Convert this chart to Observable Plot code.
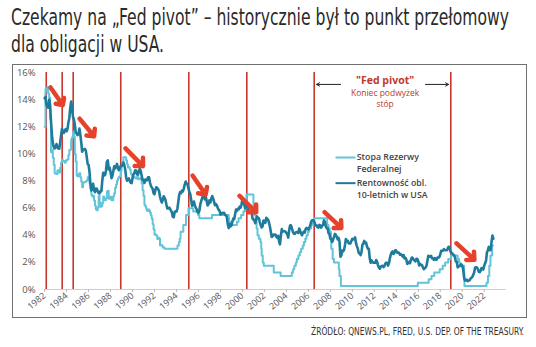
<!DOCTYPE html>
<html><head><meta charset="utf-8">
<script src="https://cdn.jsdelivr.net/npm/d3@7"></script>
<script src="https://cdn.jsdelivr.net/npm/@observablehq/plot@0.6"></script>
<style>
body{margin:0;background:#fff;width:536px;height:347px;position:relative;overflow:hidden;}
#title{position:absolute;left:11px;top:4px;font-family:"Liberation Sans Narrow","DejaVu Sans Condensed","Roboto",sans-serif;font-size:23px;line-height:27px;color:#2a2a2a;white-space:nowrap;}
#title span{display:inline-block;transform-origin:0 50%;}
#frame{position:absolute;left:12px;top:64px;width:515px;height:254px;box-sizing:border-box;border:1.5px solid #707070;}
#chart{position:absolute;left:12px;top:64px;}
#caption{position:absolute;top:326px;left:311px;font-family:"Liberation Sans Narrow","DejaVu Sans Condensed",sans-serif;font-size:10px;color:#333;white-space:nowrap;}
#caption span{display:inline-block;transform-origin:0 50%;}
</style></head>
<body>
<div id="title"><span id="t1">Czekamy na „Fed pivot” – historycznie był to punkt przełomowy</span><br><span id="t2">dla obligacji w USA.</span></div>
<div id="frame"></div>
<div id="chart"></div>
<div id="caption"><span id="cap">ŹRÓDŁO: QNEWS.PL, FRED, U.S. DEP. OF THE TREASURY.</span></div>
<script>
// ---- data ----
const yieldStart = 1982; // monthly 10-year Treasury yield, Jan 1982 onward
const yield10 = [
 14.1,14.2,13.6,13.5,13.4,14.0,13.6,12.4,11.4,10.8,10.5,10.4,
 10.46,10.72,10.51,10.40,10.38,10.85,11.38,11.85,11.65,11.54,11.69,11.83,
 11.67,11.84,12.32,12.63,13.41,13.85,13.36,12.72,12.52,12.16,11.57,11.50,
 11.38,11.51,11.86,11.43,10.85,10.16,10.31,10.33,10.37,10.24,9.78,9.26,
 9.19,8.70,7.78,7.30,7.71,7.80,7.30,7.17,7.45,7.43,7.25,7.11,
 7.08,7.25,7.25,8.02,8.61,8.40,8.45,8.76,9.42,9.52,8.86,8.99,
 8.67,8.21,8.37,8.72,9.09,8.92,9.06,9.26,8.98,8.80,8.96,9.11,
 9.09,9.17,9.36,9.18,8.86,8.28,8.02,8.11,8.19,8.01,7.87,7.84,
 8.21,8.47,8.59,8.79,8.76,8.48,8.47,8.75,8.89,8.72,8.39,8.08,
 8.09,7.85,8.11,8.04,8.07,8.28,8.27,7.90,7.65,7.53,7.42,7.09,
 7.03,7.34,7.54,7.48,7.39,7.26,6.84,6.59,6.42,6.59,6.87,6.77,
 6.60,6.26,5.98,5.97,6.04,5.96,5.81,5.68,5.36,5.33,5.72,5.77,
 5.75,5.97,6.48,6.97,7.18,7.10,7.30,7.24,7.46,7.74,7.96,7.81,
 7.78,7.47,7.20,7.06,6.63,6.17,6.28,6.49,6.20,6.04,5.93,5.71,
 5.65,5.81,6.27,6.51,6.74,6.91,6.87,6.64,6.83,6.53,6.20,6.30,
 6.58,6.42,6.69,6.89,6.71,6.49,6.22,6.30,6.21,6.03,5.88,5.81,
 5.54,5.57,5.65,5.64,5.65,5.50,5.46,5.34,4.81,4.53,4.83,4.65,
 4.72,5.00,5.23,5.18,5.54,5.90,5.79,5.94,5.92,6.11,6.03,6.28,
 6.66,6.52,6.26,5.99,6.44,6.10,6.05,5.83,5.80,5.74,5.72,5.24,
 5.16,5.10,4.89,5.14,5.39,5.28,5.24,4.97,4.73,4.57,4.65,5.09,
 5.04,4.91,5.28,5.21,5.16,4.93,4.65,4.26,3.87,3.94,4.05,4.03,
 4.05,3.90,3.81,3.96,3.57,3.33,3.98,4.45,4.27,4.29,4.30,4.27,
 4.15,4.08,3.83,4.35,4.72,4.73,4.50,4.28,4.13,4.10,4.19,4.23,
 4.22,4.17,4.50,4.34,4.14,4.00,4.18,4.26,4.20,4.46,4.54,4.47,
 4.42,4.57,4.72,4.99,5.11,5.11,5.09,4.88,4.72,4.73,4.60,4.56,
 4.76,4.72,4.56,4.69,4.75,5.10,5.00,4.67,4.52,4.53,4.15,4.10,
 3.74,3.74,3.51,3.68,3.88,4.10,4.01,3.89,3.69,3.81,3.53,2.42,
 2.52,2.87,2.82,2.93,3.29,3.72,3.56,3.59,3.40,3.39,3.40,3.59,
 3.73,3.69,3.73,3.85,3.42,3.20,3.01,2.70,2.65,2.54,2.76,3.29,
 3.39,3.58,3.41,3.46,3.17,3.00,3.00,2.30,1.98,2.15,2.01,1.98,
 1.97,1.97,2.17,2.05,1.80,1.62,1.53,1.68,1.72,1.75,1.65,1.72,
 1.91,1.98,1.96,1.76,1.93,2.30,2.58,2.74,2.81,2.62,2.72,2.90,
 2.86,2.71,2.72,2.71,2.56,2.60,2.54,2.42,2.53,2.30,2.33,2.21,
 1.88,1.98,2.04,1.94,2.20,2.36,2.32,2.17,2.17,2.07,2.26,2.24,
 2.09,1.78,1.89,1.81,1.81,1.64,1.50,1.56,1.63,1.76,2.14,2.49,
 2.43,2.42,2.48,2.30,2.30,2.19,2.32,2.21,2.20,2.36,2.35,2.40,
 2.58,2.86,2.84,2.87,2.98,2.91,2.89,2.89,3.00,3.15,3.12,2.83,
 2.71,2.68,2.57,2.53,2.40,2.07,2.06,1.63,1.70,1.71,1.81,1.86,
 1.76,1.50,0.87,0.66,0.67,0.73,0.62,0.65,0.68,0.79,0.87,0.93,
 1.08,1.26,1.61,1.64,1.62,1.52,1.32,1.28,1.37,1.58,1.56,1.47,
 1.76,1.93,2.13,2.75,2.90,3.14,2.90,2.90,3.52,3.98,3.75
];
// Fed rate: monthly 1982-1992, then change points (decimal year)
const fedMonthly = [
 12.0,14.78,14.68,14.94,14.45,14.15,12.59,10.12,10.31,9.71,9.20,8.55,
 8.55,8.51,8.77,8.80,8.63,8.98,9.37,9.56,9.45,9.48,9.34,9.47,
 9.56,9.59,9.91,10.29,10.32,11.06,11.23,11.64,11.30,9.99,9.43,8.38,
 8.35,8.50,8.58,8.27,7.97,7.53,7.88,7.90,7.92,7.99,8.05,8.27,
 8.14,7.86,7.48,6.99,6.85,6.92,6.56,6.17,5.89,5.85,6.04,6.91,
 6.43,6.10,6.13,6.37,6.85,6.73,6.58,6.73,7.22,7.29,6.69,6.77,
 6.83,6.58,6.58,6.87,7.09,7.51,7.75,8.01,8.19,8.30,8.35,8.76,
 9.12,9.36,9.75,9.75,9.75,9.53,9.24,8.99,9.02,8.84,8.55,8.45,
 8.23,8.24,8.28,8.26,8.18,8.29,8.15,8.13,8.20,8.11,7.81,7.31,
 6.91,6.25,6.12,5.91,5.78,5.90,5.82,5.66,5.45,5.21,4.81,4.43,
 4.03,4.06,3.98,3.73,3.82,3.76,3.25,3.30,3.22,3.10,3.09,3.00
];
const fedChangeYears = [1993.0,1994.09,1994.22,1994.3,1994.37,1994.62,1994.87,1995.09,1995.52,1995.97,1996.08,1997.23,
 1998.75,1998.79,1998.88,1999.5,1999.65,1999.88,2000.09,2000.22,2000.37,2001.0,2001.08,2001.21,2001.29,2001.37,2001.49,
 2001.64,2001.71,2001.75,2001.85,2001.94,2002.85,2003.48,2004.49,2004.61,2004.72,2004.86,2004.95,2005.09,2005.22,2005.34,
 2005.49,2005.6,2005.72,2005.83,2005.95,2006.08,2006.24,2006.36,2006.49,2007.71,2007.83,2007.95,2008.06,2008.08,2008.21,
 2008.33,2008.77,2008.83,2008.96,2015.96,2016.95,2017.2,2017.45,2017.95,2018.22,2018.45,2018.73,2018.97,2019.58,2019.71,
 2019.83,2020.17,2020.2,2022.21,2022.34,2022.46,2022.57,2022.72,2022.8];
const fedChangeRates = [3.0,3.25,3.5,3.75,4.25,4.75,5.5,6.0,5.75,5.5,5.25,5.5,
 5.25,5.0,4.75,5.0,5.25,5.5,5.75,6.0,7.0,6.0,5.5,5.0,4.5,4.0,3.75,
 3.5,3.0,2.5,2.0,1.75,1.25,1.0,1.25,1.5,1.75,2.0,2.25,2.5,2.75,3.0,
 3.25,3.5,3.75,4.0,4.25,4.5,4.75,5.0,5.25,4.75,4.5,4.25,3.5,3.0,2.25,
 2.0,1.5,1.0,0.25,0.5,0.75,1.0,1.25,1.5,1.75,2.0,2.25,2.5,2.25,2.0,
 1.75,1.25,0.25,0.5,1.0,1.75,2.5,3.25,3.25];
const pivotYears = [1982.15,1983.6,1984.6,1988.93,1995.12,2000.4,2006.53,2018.96];
const redArrows = [
 {x1:1982.54,y1:14.9,x2:1983.65,y2:13.6},
 {x1:1985.18,y1:12.6,x2:1986.5,y2:11.3},
 {x1:1989.36,y1:10.4,x2:1990.95,y2:9.1},
 {x1:1995.46,y1:8.4,x2:1996.65,y2:7.0},
 {x1:1999.74,y1:6.9,x2:2001.25,y2:5.7},
 {x1:2007.47,y1:5.7,x2:2009.0,y2:4.55},
 {x1:2019.48,y1:3.4,x2:2021.1,y2:2.2}
];
const pivotArrows = [
 {x1:2008.93,y1:15.12,x2:2006.75,y2:15.12},
 {x1:2016.66,y1:15.12,x2:2018.75,y2:15.12}
];
const yTicks = [0,2,4,6,8,10,12,14,16];
const xTicks = d3.range(1982, 2023, 2);
const legendLines = [
 {y: 9.73, color: "#62c4d8"},
 {y: 7.84, color: "#1f7b9b"}
];
const legendTexts = [
 {text: "Stopa Rezerwy", y: 9.73},
 {text: "Federalnej", y: 8.86},
 {text: "Rentowność obl.", y: 7.84},
 {text: "10-letnich w USA", y: 6.97}
];
const pivotLabelX = 2012.98;
const pivotTitle = [{text: "\"Fed pivot\"", y: 15.4}];
const pivotSub = [
 {text: "Koniec podwyżek", y: 14.5},
 {text: "stóp", y: 13.65}
];

// ---- build ----
const yieldData = yield10.map((v,i)=>({x: yieldStart + i/12, y: v}));
const fedData = fedMonthly.map((v,i)=>({x: 1982 + i/12, y: v}))
  .concat(fedChangeYears.map((t,i)=>({x: t, y: fedChangeRates[i]})));
const FONT = "'Open Sans', Lato, sans-serif";

const chart = Plot.plot({
  width: 515, height: 254,
  marginLeft: 32.1, marginRight: 21.3, marginTop: 8, marginBottom: 29,
  style: {fontFamily: FONT, background: "transparent"},
  x: {domain: [1982, 2024]},
  y: {domain: [0, 16]},
  marks: [
    Plot.ruleY([0], {stroke: "#cfcfcf", strokeWidth: 1}),
    Plot.axisY({ticks: yTicks, tickFormat: d => d + "%", tickSize: 0, tickPadding: 9, fontSize: 9.5, fill: "#555", label: null}),
    Plot.axisX({ticks: xTicks, tickFormat: d => String(d), tickRotate: -40, tickSize: 3, tickPadding: 2, stroke: "#bbb", fontSize: 9, fill: "#555", label: null}),
    Plot.ruleX(pivotYears, {y1: 0, y2: 16, stroke: "#c8372d", strokeWidth: 1.6}),
    Plot.line(fedData, {x: "x", y: "y", curve: "step-after", stroke: "#62c4d8", strokeWidth: 2}),
    Plot.line(yieldData, {x: "x", y: "y", stroke: "#1f7b9b", strokeWidth: 2.6}),
    Plot.arrow(redArrows, {x1: "x1", y1: "y1", x2: "x2", y2: "y2", stroke: "#e5412b", strokeWidth: 4.5, headLength: 6, headAngle: 90}),
    Plot.arrow(pivotArrows, {x1: "x1", y1: "y1", x2: "x2", y2: "y2", stroke: "#222", strokeWidth: 1, headLength: 5}),
    Plot.text(pivotTitle, {x: pivotLabelX, y: "y", text: "text", fill: "#c0392b", fontWeight: "bold", fontSize: 10.5}),
    Plot.text(pivotSub, {x: pivotLabelX, y: "y", text: "text", fill: "#c0392b", fontSize: 8.5}),
    Plot.link(legendLines, {x1: 2008.47, x2: 2010.29, y1: "y", y2: "y", stroke: "color", strokeWidth: 2}),
    Plot.text(legendTexts, {x: 2010.4, y: "y", text: "text", textAnchor: "start", fill: "#444", fontWeight: 600, fontSize: 8.8})
  ]
});
document.getElementById("chart").appendChild(chart);

function fit(id, w){ const el=document.getElementById(id); const r=el.getBoundingClientRect().width; const s=w/r; el.style.transform="scaleX("+s+")"; return s; }
const s = fit("t1", 498);
document.getElementById("t2").style.transform = "scaleX(" + s + ")";
fit("cap", 213);
</script>
</body></html>
